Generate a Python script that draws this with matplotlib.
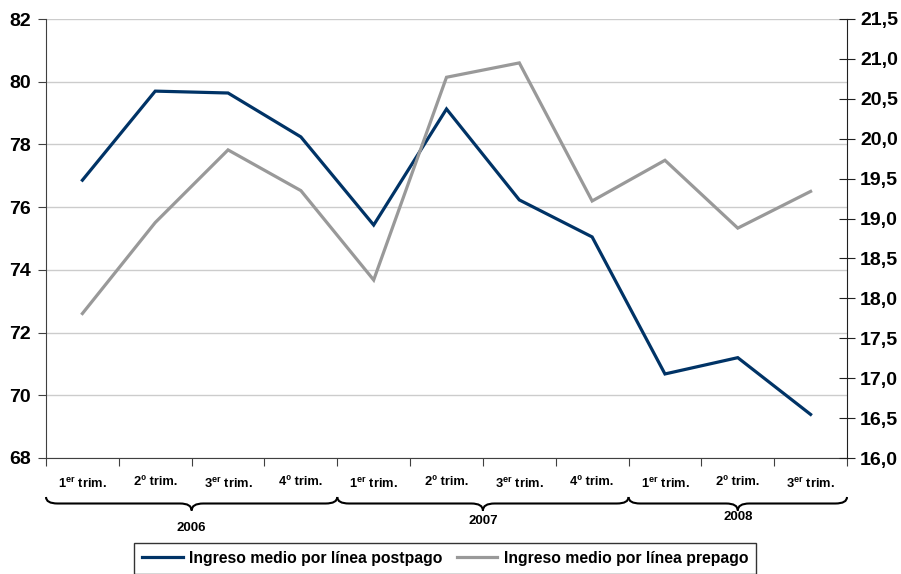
import numpy as np
import matplotlib
matplotlib.use("Agg")
import matplotlib.pyplot as plt
from matplotlib.path import Path
from matplotlib.patches import PathPatch
from matplotlib.lines import Line2D
import matplotlib.transforms as mtransforms
from matplotlib.ticker import FuncFormatter, MultipleLocator, FixedLocator

plt.rcParams['font.family'] = ['Liberation Sans', 'DejaVu Sans']
plt.rcParams['font.weight'] = 'bold'
plt.rcParams['mathtext.fontset'] = 'custom'
plt.rcParams['mathtext.rm'] = 'Liberation Sans:bold'
plt.rcParams['mathtext.it'] = 'Liberation Sans:bold'
plt.rcParams['mathtext.bf'] = 'Liberation Sans:bold'

# Quarterly labels and year groups
quarters = [r'1$^{\mathrm{er}}$ trim.', '2º trim.', r'3$^{\mathrm{er}}$ trim.', '4º trim.',
            r'1$^{\mathrm{er}}$ trim.', '2º trim.', r'3$^{\mathrm{er}}$ trim.', '4º trim.',
            r'1$^{\mathrm{er}}$ trim.', '2º trim.', r'3$^{\mathrm{er}}$ trim.']
years = ['2006', '2007', '2008']
quarters_per_year = [4, 4, 3]

# Average revenue per line
postpago = [76.86, 79.70, 79.64, 78.24, 75.43, 79.13, 76.23, 75.05, 70.68, 71.20, 69.39]
prepago = [17.81, 18.95, 19.86, 19.35, 18.23, 20.77, 20.95, 19.22, 19.73, 18.88, 19.34]

series_names = ['Ingreso medio por línea postpago', 'Ingreso medio por línea prepago']
color_post = '#003366'
color_pre = '#999999'

W, H = 901, 574
fig = plt.figure(figsize=(W / 100, H / 100), dpi=100)
ax = fig.add_axes([46 / W, 1 - 458 / H, (847 - 46) / W, (458 - 19) / H])
ax2 = ax.twinx()

x = np.arange(len(quarters))
ax.plot(x, postpago, color=color_post, lw=2.3, solid_joinstyle='miter', zorder=3)
ax2.plot(x, prepago, color=color_pre, lw=2.3, solid_joinstyle='miter', zorder=3)

ax.set_xlim(-0.5, len(quarters) - 0.5)
ax.set_ylim(68, 82)
ax.yaxis.set_major_locator(MultipleLocator(2))
ax2.set_ylim(16, 21.5)
ax2.yaxis.set_major_locator(MultipleLocator(0.5))
ax2.yaxis.set_major_formatter(FuncFormatter(lambda v, p: f'{v:.1f}'.replace('.', ',')))

# Gridlines behind the series
ax.set_axisbelow(True)
ax.yaxis.grid(True, color='#cccccc', lw=1.0)
for t in ax.yaxis.get_major_ticks():
    if abs(t.get_loc() - 82) < 1e-6:
        t.gridline.set_color('#f0f0f0')

for a in (ax, ax2):
    a.spines['top'].set_visible(False)
    a.set_facecolor('none')
ax.spines['right'].set_visible(False)
ax2.spines['left'].set_visible(False)
ax2.spines['bottom'].set_visible(False)
ax.spines['left'].set_color('#404040')
ax.spines['bottom'].set_color('#404040')
ax2.spines['right'].set_color('#202020')

ax.tick_params(axis='y', direction='out', length=6, color='#404040', labelsize=14, pad=5)
ax2.tick_params(axis='y', direction='inout', length=11, color='#202020', labelsize=14, pad=4)
for lbl in ax.get_yticklabels() + ax2.get_yticklabels():
    lbl.set_fontweight('bold')

# Category boundaries as tick marks, labels at category centres
ax.xaxis.set_major_locator(FixedLocator(np.arange(-0.5, len(quarters), 1.0)))
ax.xaxis.set_major_formatter(FuncFormatter(lambda v, p: ''))
ax.xaxis.set_minor_locator(FixedLocator(x))
ax.set_xticks(x, quarters, minor=True)
ax.tick_params(axis='x', which='major', direction='out', length=6, color='#404040')
ax.tick_params(axis='x', which='minor', length=0, labelsize=9.3, pad=13)
for lbl in ax.get_xticklabels(minor=True):
    lbl.set_fontweight('bold')

# Curly braces grouping quarters by year
trans = mtransforms.blended_transform_factory(ax.transData, fig.transFigure)
y_top = 1 - 497 / H
y_mid = 1 - 503.5 / H
y_tip = 1 - 510.5 / H
d = 0.16
year_label_y = [1 - 528 / H, 1 - 521 / H, 1 - 517 / H]
start = -0.5
for yr, n, ly in zip(years, quarters_per_year, year_label_y):
    xa, xb = start, start + n
    xm = (xa + xb) / 2
    verts = [(xa, y_top), (xa, y_mid), (xa + d, y_mid),
             (xm - d, y_mid), (xm, y_mid), (xm, y_tip),
             (xm, y_mid), (xm + d, y_mid),
             (xb - d, y_mid), (xb, y_mid), (xb, y_top)]
    codes = [Path.MOVETO, Path.CURVE3, Path.CURVE3,
             Path.LINETO, Path.CURVE3, Path.CURVE3,
             Path.CURVE3, Path.CURVE3,
             Path.LINETO, Path.CURVE3, Path.CURVE3]
    patch = PathPatch(Path(verts, codes), transform=trans, fill=False,
                      edgecolor='black', lw=1.5, clip_on=False)
    fig.add_artist(patch)
    fig.text(xm, ly, yr, transform=trans, ha='center', va='center',
             fontsize=9.5, fontweight='bold')
    start = xb

handles = [Line2D([], [], color=color_post, lw=2.3),
           Line2D([], [], color=color_pre, lw=2.3)]
leg = fig.legend(handles, series_names, ncol=2, loc='upper center',
                 bbox_to_anchor=(445 / W, 1 - 543 / H), frameon=True,
                 fancybox=False, edgecolor='black', fontsize=11.3,
                 handlelength=2.6, handletextpad=0.4, columnspacing=0.9,
                 borderpad=0.5, borderaxespad=0)
leg.get_frame().set_linewidth(1.0)
for t in leg.get_texts():
    t.set_fontweight('bold')

fig.savefig('out.png', dpi=100)
